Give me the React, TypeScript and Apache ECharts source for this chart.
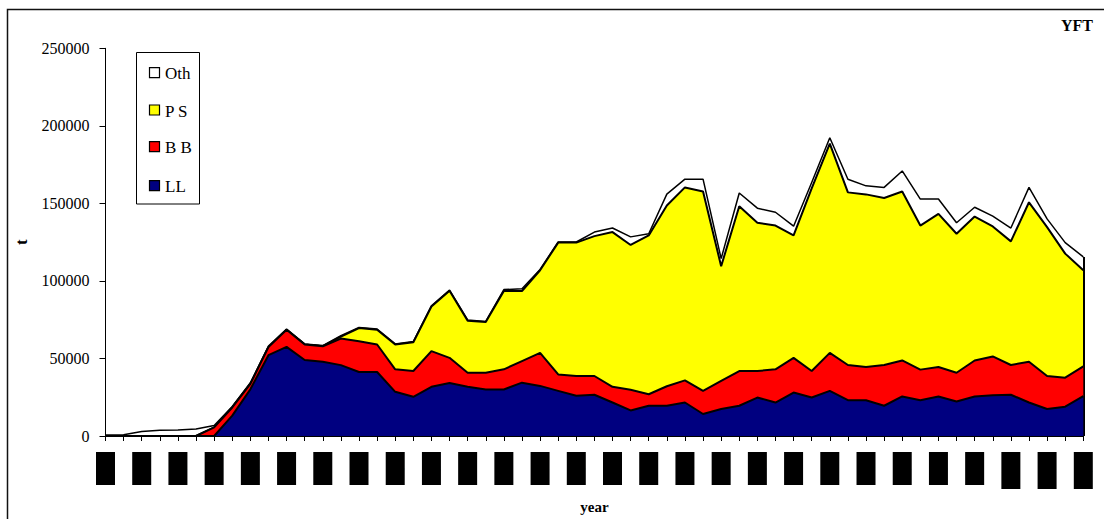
import React, { useEffect, useRef } from 'react';
import * as echarts from 'echarts';

const years = [
  '1950', '1951', '1952', '1953', '1954', '1955', '1956', '1957', '1958', '1959',
  '1960', '1961', '1962', '1963', '1964', '1965', '1966', '1967', '1968', '1969',
  '1970', '1971', '1972', '1973', '1974', '1975', '1976', '1977', '1978', '1979',
  '1980', '1981', '1982', '1983', '1984', '1985', '1986', '1987', '1988', '1989',
  '1990', '1991', '1992', '1993', '1994', '1995', '1996', '1997', '1998', '1999',
  '2000', '2001', '2002', '2003', '2004',
];

const LL = [
  0, 0, 0, 0, 0, 0, 0, 13100, 30100, 52100,
  57500, 49000, 47900, 45700, 41300, 41300, 28500, 25300, 31700, 34200,
  31700, 30000, 30000, 34400, 32300, 29100, 25900, 26600, 21600, 16500,
  19500, 19500, 21600, 14200, 17400, 19500, 24800, 21600, 28000, 24800,
  29100, 23100, 23100, 19500, 25500, 23100, 25500, 22300, 25500, 26300,
  26600, 21600, 17400, 18900, 25700,
];

const BB = [
  0, 0, 0, 0, 0, 0, 5600, 5300, 3500, 5200,
  11000, 10000, 10000, 17100, 19800, 17700, 14500, 16600, 23000, 16200,
  9100, 10800, 13000, 13900, 21300, 10600, 12800, 12100, 10100, 13300,
  7400, 12600, 14300, 14900, 18100, 22400, 17100, 21400, 22400, 17100,
  24500, 22700, 21400, 26300, 23200, 19700, 19000, 18500, 23200, 25000,
  19200, 26300, 21300, 18700, 19200,
];

const PS = [
  0, 0, 0, 0, 0, 0, 0, 0, 0, 0,
  0, 0, 0, 1300, 8500, 9500, 16000, 18600, 28800, 43300,
  33500, 32700, 50500, 45200, 53300, 85000, 86000, 90200, 99800, 93400,
  102400, 116500, 124400, 128600, 74000, 106200, 95600, 92700, 78900, 117800,
  134900, 111300, 111300, 107700, 109000, 92900, 98700, 89600, 92800, 83800,
  79700, 102800, 96000, 80000, 62000,
];

const Oth = [
  600, 800, 2900, 3700, 3900, 4500, 1100, 600, 700, 700,
  500, 400, 400, 600, 400, 500, 400, 400, 400, 400,
  500, 400, 900, 1500, 500, 400, 400, 2600, 2600, 5200,
  1100, 7400, 5300, 7900, 4900, 8600, 9400, 8600, 6000, 3800,
  3800, 8500, 5500, 6800, 13200, 17100, 9600, 7100, 6000, 6700,
  8600, 9600, 5300, 7100, 8600,
];

const legendItems = [
  { label: 'Oth', color: '#FFFFFF' },
  { label: 'P S', color: '#FFFF00' },
  { label: 'B B', color: '#FF0000' },
  { label: 'LL', color: '#000080' },
];

const FONT = '"Liberation Serif", "Times New Roman", serif';

export default function App() {
  const ref = useRef<HTMLDivElement>(null);

  useEffect(() => {
    const chart = echarts.init(ref.current as HTMLDivElement, null, { renderer: 'svg' });
    const last = years.length - 1;
    const totalLast = LL[last] + BB[last] + PS[last] + Oth[last];

    const mk = (name: string, data: number[], color: string, z: number, lw: number, extra: any = {}) => ({
      name,
      type: 'line',
      stack: 'all',
      data,
      z,
      symbol: 'none',
      showSymbol: false,
      silent: true,
      lineStyle: { color: '#000', width: lw },
      itemStyle: { color },
      areaStyle: { color, opacity: 1 },
      emphasis: { disabled: true },
      ...extra,
    });

    const legendGraphics: any[] = [
      {
        type: 'rect',
        shape: { x: 136.5, y: 52.5, width: 63, height: 151.5 },
        style: { fill: '#fff', stroke: '#000', lineWidth: 1 },
        z: 100,
      },
    ];
    const itemY = [72.7, 110, 146.7, 185.7];
    legendItems.forEach((it, i) => {
      legendGraphics.push({
        type: 'rect',
        shape: { x: 149.5, y: itemY[i] - 5, width: 10, height: 10 },
        style: { fill: it.color, stroke: '#000', lineWidth: 1.2 },
        z: 101,
      });
      legendGraphics.push({
        type: 'text',
        x: 165,
        y: itemY[i] + 1,
        style: {
          text: it.label,
          fill: '#000',
          fontSize: 17,
          fontFamily: FONT,
          align: 'left',
          verticalAlign: 'middle',
        },
        z: 101,
      });
    });

    chart.setOption({
      animation: false,
      backgroundColor: '#fff',
      grid: { left: 105.5, top: 48.3, width: 977.8, height: 390.5, containLabel: false },
      xAxis: {
        type: 'category',
        data: years,
        boundaryGap: false,
        axisLine: { lineStyle: { color: '#000', width: 1 } },
        axisTick: { show: true, interval: 0, length: 5, lineStyle: { color: '#000' } },
        axisLabel: {
          interval: 1,
          margin: 16,
          formatter: (v: string, i: number) => (i >= 50 ? `{t|${v}}` : `{b|${v}}`),
          rich: {
            b: { width: 19, height: 33, backgroundColor: '#000', color: '#000', fontSize: 8, align: 'center' },
            t: { width: 19, height: 37, backgroundColor: '#000', color: '#000', fontSize: 8, align: 'center' },
          },
        },
        name: 'year',
        nameLocation: 'middle',
        nameGap: 63,
        nameTextStyle: { fontFamily: FONT, fontWeight: 'bold', fontSize: 15, color: '#000' },
      },
      yAxis: {
        type: 'value',
        min: 0,
        max: 250000,
        interval: 50000,
        splitLine: { show: false },
        axisLine: { show: true, lineStyle: { color: '#000', width: 1 } },
        axisTick: { show: true, length: 6, lineStyle: { color: '#000' } },
        axisLabel: {
          margin: 16,
          fontFamily: FONT,
          fontSize: 16,
          color: '#000',
          formatter: (v: number) => String(v),
        },
        name: 't',
        nameLocation: 'middle',
        nameGap: 76,
        nameRotate: 90,
        nameTextStyle: { fontFamily: FONT, fontWeight: 'bold', fontSize: 17, color: '#000' },
      },
      series: [
        mk('LL', LL, '#000080', 6, 2, {
          markLine: {
            silent: true,
            symbol: ['none', 'none'],
            label: { show: false },
            lineStyle: { color: '#000', width: 2, type: 'solid' },
            data: [[{ coord: [years[last], 0] }, { coord: [years[last], totalLast] }]],
          },
        }),
        mk('B B', BB, '#FF0000', 5, 2),
        mk('P S', PS, '#FFFF00', 4, 2),
        mk('Oth', Oth, '#FFFFFF', 3, 1.5),
      ],
      graphic: [
        {
          type: 'rect',
          shape: { x: 7.5, y: 9.5, width: 1300, height: 700 },
          style: { fill: 'none', stroke: '#111', lineWidth: 1.5 },
          silent: true,
        },
        {
          type: 'text',
          x: 1093,
          y: 25,
          style: {
            text: 'YFT',
            fill: '#000',
            fontSize: 16,
            fontWeight: 'bold',
            fontFamily: FONT,
            align: 'right',
            verticalAlign: 'middle',
          },
        },
        ...legendGraphics,
      ],
    });

    return () => chart.dispose();
  }, []);

  return <div ref={ref} style={{ position: 'fixed', left: 0, top: 0, width: 1104, height: 519 }} />;
}
